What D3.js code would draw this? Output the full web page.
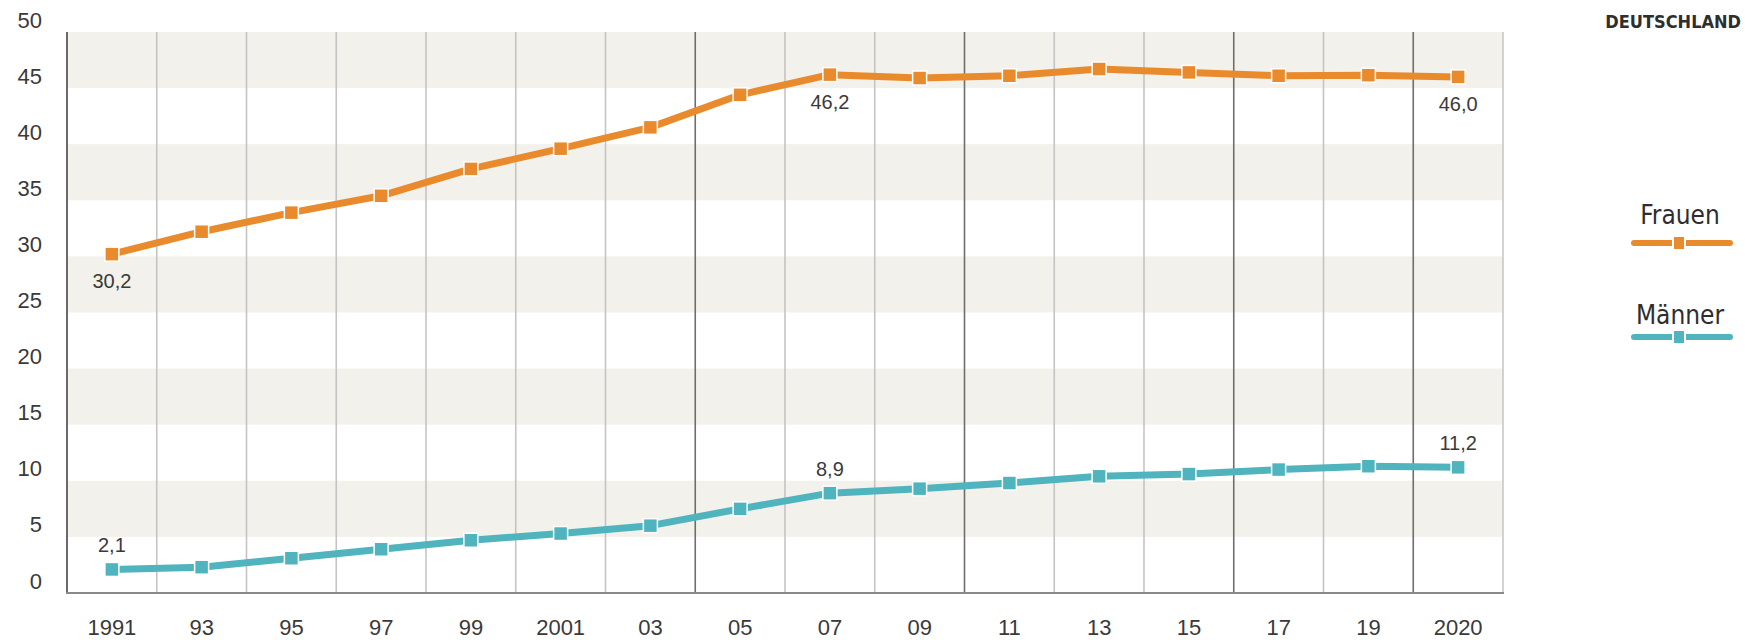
<!DOCTYPE html>
<html lang="de">
<head>
<meta charset="utf-8">
<style>
  body { margin: 0; background: #fff; }
  svg { display: block; }
  .num { font-family: "Liberation Sans", Arial, sans-serif; fill: #3a3a3a; }
  .cond { font-family: "Liberation Sans Narrow", "DejaVu Sans Condensed", "Roboto Condensed", sans-serif; fill: #2e2e2e; }
</style>
<script src="https://cdnjs.cloudflare.com/ajax/libs/d3/7.8.5/d3.min.js"></script>
<title>Frauen / Männer</title>
</head>
<body>
<div id="chart"></div>
<script>
// years and their tick labels
var years = [1991, 1993, 1995, 1997, 1999, 2001, 2003, 2005, 2007, 2009, 2011, 2013, 2015, 2017, 2019, 2020];
var yearLabels = ["1991", "93", "95", "97", "99", "2001", "03", "05", "07", "09", "11", "13", "15", "17", "19", "2020"];

// values (percent)
var frauen = [30.2, 32.2, 33.9, 35.4, 37.8, 39.6, 41.5, 44.4, 46.2, 45.9, 46.1, 46.7, 46.4, 46.1, 46.15, 46.0];
var maenner = [2.1, 2.3, 3.1, 3.9, 4.7, 5.3, 6.0, 7.5, 8.9, 9.3, 9.8, 10.4, 10.6, 11.0, 11.3, 11.2];

// y tick labels
var yTicks = [0, 5, 10, 15, 20, 25, 30, 35, 40, 45, 50];

// which points get a value label
var labelled = [1991, 2007, 2020];

// boundaries drawn darker (index of column edge)
var darkEdges = [7, 10, 13, 15];

var width = 1745, height = 640;
var mLeft = 67, mRight = 1503, mTop = 32, mBottom = 593;

var orange = "#e98b2c", teal = "#4fb4bd";

var svg = d3.select("#chart").append("svg")
    .attr("width", width)
    .attr("height", height);

var x = d3.scaleBand().domain(years).range([mLeft, mRight]).padding(0);
var y = d3.scaleLinear().domain([0, 50]).range([mBottom, mTop]);

// shaded bands 5-10, 15-20, ...
var bands = yTicks.filter(function(d) { return d % 10 == 5; });
svg.append("g").selectAll("rect")
    .data(bands)
    .enter().append("rect")
    .attr("x", mLeft)
    .attr("width", mRight - mLeft)
    .attr("y", function(d) { return y(d + 5); })
    .attr("height", function(d) { return y(d) - y(d + 5); })
    .attr("fill", "#f2f1eb");

// vertical column lines
var edges = d3.range(1, years.length);
svg.append("g").selectAll("line")
    .data(edges)
    .enter().append("line")
    .attr("x1", function(i) { return mLeft + i * x.bandwidth(); })
    .attr("x2", function(i) { return mLeft + i * x.bandwidth(); })
    .attr("y1", mTop)
    .attr("y2", mBottom)
    .attr("stroke", function(i) { return darkEdges.indexOf(i) >= 0 ? "#6e6e6e" : "#c4c4c4"; })
    .attr("stroke-width", 1.6);

// right edge
svg.append("line")
    .attr("x1", mRight).attr("x2", mRight)
    .attr("y1", mTop).attr("y2", mBottom)
    .attr("stroke", "#c8c8c8").attr("stroke-width", 1.6);

// left axis line
svg.append("line")
    .attr("x1", mLeft).attr("x2", mLeft)
    .attr("y1", mTop).attr("y2", mBottom + 1)
    .attr("stroke", "#6a6a6a").attr("stroke-width", 2);

// bottom axis line
svg.append("line")
    .attr("x1", mLeft - 1).attr("x2", mRight + 1)
    .attr("y1", mBottom).attr("y2", mBottom)
    .attr("stroke", "#8a8a8a").attr("stroke-width", 2);

// y axis labels
var yAxis = svg.append("g")
    .attr("transform", "translate(" + 42 + ",0)")
    .call(d3.axisLeft(y).tickValues(yTicks).tickSize(0).tickPadding(0));
yAxis.select(".domain").remove();
yAxis.selectAll("text")
    .attr("dy", "0.32em")
    .attr("transform", "translate(0,-12)")
    .style("font-size", "22px")
    .style("font-family", "'Liberation Sans', Arial, sans-serif")
    .attr("fill", "#3a3a3a");

// x axis labels
var xAxis = svg.append("g")
    .attr("transform", "translate(0," + mBottom + ")")
    .call(d3.axisBottom(x).tickSize(0).tickPadding(26)
        .tickFormat(function(d, i) { return yearLabels[i]; }));
xAxis.select(".domain").remove();
xAxis.selectAll("text")
    .style("font-size", "22px")
    .style("font-family", "'Liberation Sans', Arial, sans-serif")
    .attr("fill", "#3a3a3a");

var cx = function(d, i) { return x(years[i]) + x.bandwidth() / 2; };

function drawSeries(values, color, labelBelow) {
    var line = d3.line()
        .x(function(d, i) { return cx(d, i); })
        .y(function(d) { return y(d); });

    var g = svg.append("g");

    g.append("path")
        .datum(values)
        .attr("d", line)
        .attr("fill", "none")
        .attr("stroke", color)
        .attr("stroke-width", 7)
        .attr("stroke-linejoin", "round");

    g.selectAll("rect")
        .data(values)
        .enter().append("rect")
        .attr("x", function(d, i) { return cx(d, i) - 7; })
        .attr("y", function(d) { return y(d) - 7; })
        .attr("width", 14)
        .attr("height", 14)
        .attr("fill", color)
        .attr("stroke", "#fff")
        .attr("stroke-width", 1.5);

    g.selectAll("text")
        .data(values.map(function(v, i) { return { v: v, i: i }; })
            .filter(function(d) { return labelled.indexOf(years[d.i]) >= 0; }))
        .enter().append("text")
        .attr("class", "num")
        .attr("x", function(d) { return cx(d.v, d.i); })
        .attr("y", function(d) { return y(d.v) + (labelBelow ? 34 : -17); })
        .attr("text-anchor", "middle")
        .style("font-size", "20px")
        .text(function(d) { return d3.format(".1f")(d.v).replace(".", ","); });
}

drawSeries(frauen, orange, true);
drawSeries(maenner, teal, false);

// source mark top right
svg.append("text")
    .attr("class", "cond")
    .attr("x", 1741).attr("y", 28)
    .attr("text-anchor", "end")
    .style("font-size", "18px")
    .style("font-weight", "bold")
    .attr("fill", "#3a3a3a")
    .text("DEUTSCHLAND");

// legend
var legend = [
    { name: "Frauen", color: orange, ty: 224, ly: 243 },
    { name: "Männer", color: teal, ty: 324, ly: 337 }
];
var lg = svg.append("g").selectAll("g")
    .data(legend)
    .enter().append("g");

lg.append("text")
    .attr("class", "cond")
    .attr("x", 1680)
    .attr("y", function(d) { return d.ty; })
    .attr("text-anchor", "middle")
    .style("font-size", "26px")
    .text(function(d) { return d.name; });

lg.append("line")
    .attr("x1", 1634).attr("x2", 1730)
    .attr("y1", function(d) { return d.ly; })
    .attr("y2", function(d) { return d.ly; })
    .attr("stroke", function(d) { return d.color; })
    .attr("stroke-width", 6)
    .attr("stroke-linecap", "round");

lg.append("rect")
    .attr("x", 1673)
    .attr("y", function(d) { return d.ly - 7; })
    .attr("width", 12)
    .attr("height", 14)
    .attr("fill", function(d) { return d.color; })
    .attr("stroke", "#fff")
    .attr("stroke-width", 2);
</script>
</body>
</html>
